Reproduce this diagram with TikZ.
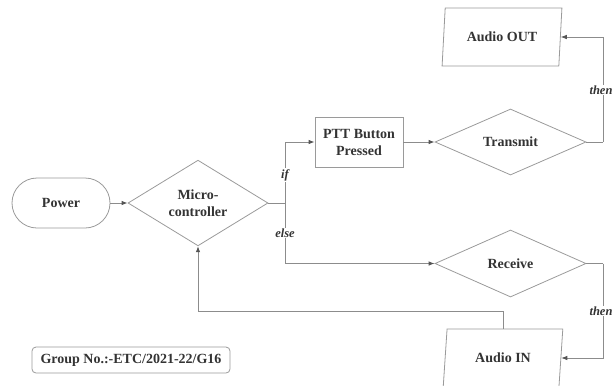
\documentclass[tikz,border=0pt]{standalone}
\usepackage{fontspec}
\setmainfont{Liberation Serif}
\usetikzlibrary{shapes.geometric,arrows.meta}
\definecolor{lnc}{HTML}{8C8C8C}
\definecolor{bdc}{HTML}{9A9A9A}
\definecolor{txc}{HTML}{333333}
\definecolor{tipc}{HTML}{555555}
\tikzset{
  base/.style={draw=bdc, line width=0.8bp, text=txc, inner sep=0pt, align=center,
    font=\fontsize{14bp}{17bp}\selectfont\bfseries},
  term/.style={base, rectangle, rounded corners=25bp, minimum width=98bp, minimum height=50bp},
  dec/.style={base, diamond},
  proc/.style={base, rectangle, minimum width=88bp, minimum height=50bp},
  io/.style={base, trapezium, trapezium left angle=79, trapezium right angle=101,
    trapezium stretches=true, minimum width=120bp, minimum height=58bp},
  grp/.style={base, rectangle, rounded corners=4bp, minimum width=198bp, minimum height=26bp},
  arr/.style={draw=lnc, line width=0.8bp, -{Latex[length=6bp,width=4.5bp,fill=tipc,color=tipc]}},
  ln/.style={draw=lnc, line width=0.8bp},
  lbl/.style={fill=white, text=txc, inner sep=1bp,
    font=\fontsize{12.5bp}{14bp}\selectfont\bfseries\itshape}
}
\begin{document}
\begin{tikzpicture}[x=1bp, y=-1bp]
\useasboundingbox (0,0) rectangle (613,385);
\node[term] (pw) at (61,203) {Power};
\node[dec, minimum width=140bp, minimum height=81bp] (mc) at (198,203) {Micro-\\controller};
\node[proc] (ptt) at (359,142) {PTT Button\\Pressed};
\node[dec, minimum width=151bp, minimum height=66bp] (tx) at (510.5,142) {Transmit};
\node[dec, minimum width=151bp, minimum height=67bp] (rx) at (510.5,263.5) {Receive};
\node[io] (aout) at (502,37) {Audio OUT};
\node[io] (ain) at (503,358) {Audio IN};
\node[grp] (grp) at (131,360) {Group No.:-ETC/2021-22/G16};

\draw[arr] (pw.east) -- (mc.west);
\draw[ln] (mc.east) -- ++(17,0) coordinate (br);
\draw[arr] (br) |- (ptt.west);
\draw[arr] (br) |- (rx.west);
\draw[arr] (ptt.east) -- (tx.west);
\draw[ln] (tx.east) -- ++(17,0) coordinate (tb);
\draw[arr] (tb) |- (aout);
\draw[ln] (rx.east) -- ++(17,0) coordinate (rb);
\draw[arr] (rb) |- (ain);
\draw[arr] (ain.north) -- ++(0,-17) -| (mc.south);

\node[lbl] (lif) at (285,175) {if};
\node[lbl] (lelse) at (285,233) {else};
\node[lbl] (lthen1) at (601,90) {then};
\node[lbl] (lthen2) at (601,311) {then};
\end{tikzpicture}
\end{document}
